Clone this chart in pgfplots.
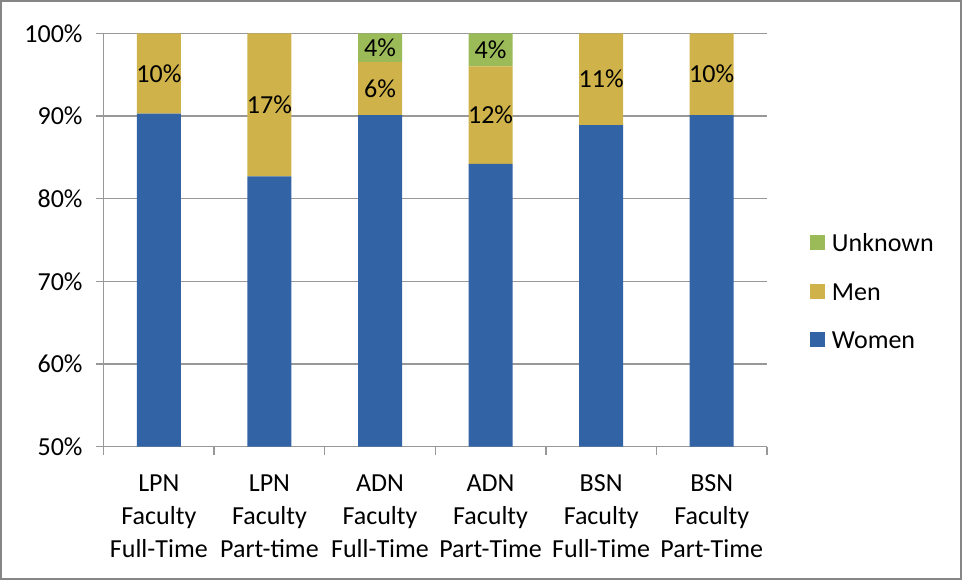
\documentclass[border=0pt]{standalone}
\usepackage{pgfplots}
\pgfplotsset{compat=1.18}
\usepackage{fontspec}
\setmainfont{Carlito}
\definecolor{cWomen}{RGB}{49,99,165}
\definecolor{cMen}{RGB}{207,178,73}
\definecolor{cUnk}{RGB}{155,187,89}
\definecolor{cGrid}{RGB}{152,152,152}
\definecolor{cFrame}{RGB}{134,134,134}
\pgfplotsset{sqlegend/.style={legend image code/.code={\fill[##1] (0pt,-3.75pt) rectangle (7.5pt,3.75pt);}}}
\begin{document}
\begin{tikzpicture}[font=\fontsize{13}{16.5}\selectfont]
\path[use as bounding box] (0,0) rectangle (481pt,290pt);
\begin{axis}[
  at={(51.8pt,66.65pt)}, anchor=south west,
  width=331.7pt, height=206.7pt, scale only axis,
  ybar stacked, bar width=22pt,
  ymin=50, ymax=100, xmin=-0.5, xmax=5.5,
  axis lines=left,
  axis line style={-, cGrid, line width=0.75pt},
  tick style={cGrid, line width=0.75pt},
  tick align=outside,
  major tick length=4pt,
  ymajorgrids, grid style={cGrid, line width=0.75pt},
  ytick={50,60,70,80,90,100},
  yticklabels={50\%,60\%,70\%,80\%,90\%,100\%},
  yticklabel style={xshift=-3pt},
  xtick={-0.5,0.5,1.5,2.5,3.5,4.5,5.5},
  xticklabels={},
  extra x ticks={0,1,2,3,4,5},
  extra x tick labels={{LPN\\Faculty\\Full-Time},{LPN\\Faculty\\Part-time},{ADN\\Faculty\\Full-Time},{ADN\\Faculty\\Part-Time},{BSN\\Faculty\\Full-Time},{BSN\\Faculty\\Part-Time}},
  extra x tick style={major tick length=0pt, xticklabel style={align=center, yshift=-10.5pt}},
  reverse legend,
  legend style={at={(1.0648,0.3766)}, anchor=west, draw=none, fill=none,
    inner sep=0pt, outer sep=0pt, row sep=15.25pt, column sep=3.5pt,
    nodes={inner sep=0pt, text height=9pt, text depth=0pt}},
  legend cell align=left,
]
\addplot[fill=cWomen, draw=none, sqlegend]
  coordinates {(0,90.3) (1,82.7) (2,90.1) (3,84.2) (4,88.9) (5,90.1)};
\addplot[fill=cMen, draw=none, sqlegend,
  nodes near coords, point meta=explicit symbolic,
  nodes near coords align={center},
  every node near coord/.append style={black}]
  coordinates {(0,9.7)[10\%] (1,17.3)[17\%] (2,6.4)[6\%] (3,11.8)[12\%] (4,11.1)[11\%] (5,9.9)[10\%]};
\addplot[fill=cUnk, draw=none, sqlegend,
  nodes near coords, point meta=explicit symbolic,
  nodes near coords align={center},
  every node near coord/.append style={black}]
  coordinates {(0,0)[] (1,0)[] (2,3.5)[4\%] (3,4.0)[4\%] (4,0)[] (5,0)[]};
\legend{Women,Men,Unknown}
\end{axis}
\draw[cFrame, line width=0.9pt] (0.45pt,0.45pt) rectangle (480.55pt,289.55pt);
\end{tikzpicture}
\end{document}
